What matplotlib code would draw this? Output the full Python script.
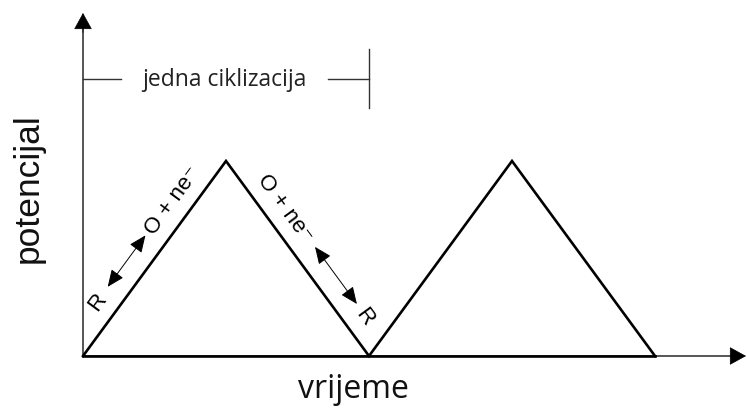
import numpy as np
import matplotlib
matplotlib.use("Agg")
import matplotlib.pyplot as plt

# data: one and a half cyclic-voltammetry sweeps (triangle wave)
time = [0, 1, 2, 3, 4]
potential = [0, 1, 0, 1, 0]
cycle_label = "jedna ciklizacija"
x_label = "vrijeme"
y_label = "potencijal"
ox_label = "O + ne\u207b"
red_label = "R"

W, H, DPI = 747, 410, 100
fig = plt.figure(figsize=(W / DPI, H / DPI), dpi=DPI)
ax = fig.add_axes([0, 0, 1, 1])
ax.set_axis_off()
# pixel layout: origin at (83, 357), 143 px per time unit, 195 px per potential unit
x0, y0, sx, sy = 83, 357, 143, 195
ax.set_xlim(-x0 / sx, (W - x0) / sx)
ax.set_ylim(-(H - y0) / sy, y0 / sy)

axis_col = "#555555"
x_tip = (W - 1 - x0) / sx
y_tip = (y0 - 14) / sy

# axes lines
ax.plot([0, 0], [0, y_tip - 0.05], color=axis_col, lw=1.4, solid_capstyle="butt", zorder=1)
ax.plot([0, x_tip - 0.05], [0, 0], color=axis_col, lw=1.4, solid_capstyle="butt", zorder=1)
ax.annotate("", xy=(0, y_tip), xytext=(0, y_tip - 0.1),
            arrowprops=dict(arrowstyle="-|>,head_length=0.4,head_width=0.22", color="black",
                            lw=0.5, mutation_scale=27, shrinkA=0, shrinkB=0))
ax.annotate("", xy=(x_tip, 0), xytext=(x_tip - 0.1, 0),
            arrowprops=dict(arrowstyle="-|>,head_length=0.4,head_width=0.22", color="black",
                            lw=0.5, mutation_scale=27, shrinkA=0, shrinkB=0))

# triangle wave
ax.plot(time, potential, color="black", lw=1.9, solid_joinstyle="miter", zorder=3)
ax.plot([time[0], time[-1]], [0, 0], color="black", lw=1.9, zorder=3)

# one-cycle bracket
bcol = "#333333"
by = (y0 - 80) / sy
ax.plot([0, (121 - x0) / sx], [by, by], color=bcol, lw=1.0)
ax.plot([(328 - x0) / sx, time[2]], [by, by], color=bcol, lw=1.0)
ax.plot([time[2], time[2]], [(y0 - 50) / sy, (y0 - 109) / sy], color=bcol, lw=1.0)
ax.text((time[0] + time[2]) / 2 - 0.01, by, cycle_label, ha="center", va="center",
        fontsize=16.5, family="Open Sans", color="#222222")

fig.canvas.draw()
T = ax.transData
Ti = T.inverted()


def along(p, q, f, perp_px, side):
    a = T.transform(p)
    b = T.transform(q)
    d = b - a
    u = d / np.hypot(*d)
    n = np.array([-u[1], u[0]]) * side
    pt = a + f * d + n * perp_px
    return Ti.transform(pt)


def ang(p, q):
    d = T.transform(q) - T.transform(p)
    return np.degrees(np.arctan2(d[1], d[0]))


tfont = dict(fontsize=16, family=["Liberation Sans", "DejaVu Sans"], ha="center",
             va="center", rotation_mode="anchor")

# rising slope (left)
P0, P1 = (time[0], potential[0]), (time[1], potential[1])
a1 = ang(P0, P1)
ax.text(*along(P0, P1, 0.217, 21, 1), red_label, rotation=a1, **tfont)
ax.text(*along(P0, P1, 0.74, 20, 1), ox_label, rotation=a1, **tfont)
ax.annotate("", xy=along(P0, P1, 0.555, 21, 1), xytext=along(P0, P1, 0.291, 21, 1),
            arrowprops=dict(arrowstyle="<|-|>,head_length=0.7,head_width=0.3", color="black",
                            lw=0.7, mutation_scale=15, shrinkA=0, shrinkB=0))

# falling slope (right)
P2 = (time[2], potential[2])
a2 = ang(P1, P2)
ax.text(*along(P1, P2, 0.30, 20, 1), ox_label, rotation=a2, **tfont)
ax.text(*along(P1, P2, 0.856, 20, 1), red_label, rotation=a2, **tfont)
ax.annotate("", xy=along(P1, P2, 0.797, 21, 1), xytext=along(P1, P2, 0.504, 21, 1),
            arrowprops=dict(arrowstyle="<|-|>,head_length=0.7,head_width=0.3", color="black",
                            lw=0.7, mutation_scale=15, shrinkA=0, shrinkB=0))

# axis labels
fig.text(28 / W, 1 - 188 / H, y_label, rotation=90, ha="center", va="center",
         fontsize=25.5, family="Liberation Sans", color="#111111")
fig.text(353 / W, 1 - 390 / H, x_label, ha="center", va="center",
         fontsize=23, family="Open Sans", color="#111111")

fig.savefig("out.png", dpi=DPI)
